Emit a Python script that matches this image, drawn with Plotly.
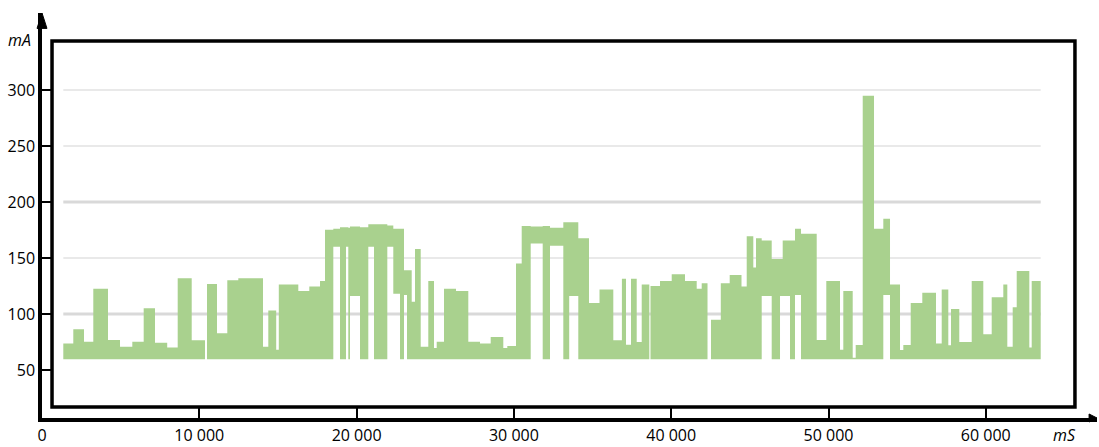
import plotly.graph_objects as go

# Current draw over time: each segment starts at seg_start_ms and runs to the
# next start; the trace fills the band between seg_floor_mA and seg_top_mA.
seg_start_ms = [
    1354, 1990, 2670, 3261, 4196, 4959, 5741, 6465, 7184, 7959,
    8627, 9517, 10362, 10490, 11125, 11780, 12480, 14050, 14387, 14889,
    15054, 16294, 16993, 17673, 17991, 18519, 18945, 19326, 19472, 19580,
    20216, 20744, 21106, 21952, 22333, 22759, 23013, 23204, 23503, 23713,
    24075, 24558, 24921, 25092, 25556, 26319, 27101, 27845, 28525, 29326,
    29581, 30134, 30496, 31068, 31831, 32295, 33141, 33516, 34094, 34774,
    35442, 36319, 36866, 37127, 37444, 37807, 38125, 38608, 38684, 39288,
    40032, 40877, 41621, 41939, 42308, 42530, 43153, 43719, 44469, 44800,
    45219, 45391, 45753, 46389, 46917, 47088, 47553, 47870, 48252, 49250,
    49860, 50731, 50941, 51538, 51729, 52175, 52893, 53484, 53910, 54546,
    54756, 55226, 55963, 56834, 57197, 57616, 57788, 58314, 59104, 59841,
    60375, 61113, 61367, 61710, 61965, 62766, 62918,
]
end_ms = 63490

seg_top_mA = [
    73.7, 86.4, 75.3, 122.5, 76.8, 70.8, 75.3, 105.0, 74.4, 70.0,
    131.8, 76.5, 59.5, 126.8, 82.8, 130.0, 131.8, 70.8, 103.2, 68.0,
    126.4, 120.4, 124.6, 129.4, 175.2, 176.0, 177.5, 177.5, 177.0, 178.0,
    177.5, 180.0, 180.0, 179.0, 176.0, 176.0, 139.0, 139.0, 111.0, 158.0,
    70.8, 129.4, 69.5, 75.3, 122.6, 120.4, 75.3, 73.7, 79.4, 69.5,
    71.5, 145.0, 178.5, 178.0, 178.5, 177.0, 182.0, 182.0, 167.5, 109.8,
    121.9, 76.5, 131.4, 72.5, 131.4, 75.0, 126.4, 59.5, 124.9, 129.4,
    135.4, 129.4, 122.5, 127.5, 59.5, 94.9, 127.5, 134.7, 124.5, 169.3,
    141.5, 167.6, 165.5, 149.0, 149.0, 165.5, 165.5, 176.0, 171.6, 76.8,
    129.4, 68.0, 120.4, 61.0, 72.3, 294.9, 176.0, 185.0, 126.4, 67.8,
    72.3, 109.8, 118.9, 73.7, 121.9, 72.0, 104.4, 74.9, 129.4, 81.9,
    115.0, 126.4, 70.8, 106.0, 138.4, 70.0, 129.4,
]

seg_floor_mA = [
    59.5, 59.5, 59.5, 59.5, 59.5, 59.5, 59.5, 59.5, 59.5, 59.5,
    59.5, 59.5, 59.5, 59.5, 59.5, 59.5, 59.5, 59.5, 59.5, 59.5,
    59.5, 59.5, 59.5, 59.5, 59.5, 160.0, 59.5, 160.0, 59.5, 116.0,
    59.5, 160.0, 59.5, 160.0, 118.0, 59.5, 117.0, 59.5, 59.5, 59.5,
    59.5, 59.5, 59.5, 59.5, 59.5, 59.5, 59.5, 59.5, 59.5, 59.5,
    59.5, 59.5, 59.5, 163.0, 59.5, 161.0, 59.5, 116.0, 59.5, 59.5,
    59.5, 59.5, 59.5, 59.5, 59.5, 59.5, 59.5, 59.5, 59.5, 59.5,
    59.5, 59.5, 59.5, 59.5, 59.5, 59.5, 59.5, 59.5, 59.5, 59.5,
    59.5, 59.5, 116.0, 59.5, 116.0, 116.0, 59.5, 117.0, 59.5, 59.5,
    59.5, 59.5, 59.5, 59.5, 59.5, 59.5, 59.5, 117.0, 59.5, 59.5,
    59.5, 59.5, 59.5, 59.5, 59.5, 59.5, 59.5, 59.5, 59.5, 59.5,
    59.5, 59.5, 59.5, 59.5, 59.5, 59.5, 59.5,
]

x_tick_vals = [0, 10000, 20000, 30000, 40000, 50000, 60000]
x_tick_labels = ["0", "10 000", "20 000", "30 000", "40 000", "50 000", "60 000"]
y_tick_vals = [50, 100, 150, 200, 250, 300]
y_tick_labels = ["50", "100", "150", "200", "250", "300"]
thin_grid_mA = [150, 250, 300]
thick_grid_mA = [100, 200]

x_units = "mS"
y_units = "mA"

GREEN = "#a9d18e"
FONT = "Open Sans"
FS = 16

edges = seg_start_ms + [end_ms]
tops = seg_top_mA + [seg_top_mA[-1]]
floors = seg_floor_mA + [seg_floor_mA[-1]]

fig = go.Figure()
fig.add_trace(go.Scatter(
    x=edges, y=floors, mode="lines", line=dict(shape="hv", width=0, color=GREEN),
    hoverinfo="skip", showlegend=False,
))
fig.add_trace(go.Scatter(
    x=edges, y=tops, mode="lines", line=dict(shape="hv", width=0, color=GREEN),
    fill="tonexty", fillcolor=GREEN, showlegend=False,
))

shapes = []
for v in thin_grid_mA:
    shapes.append(dict(type="line", xref="x", yref="y", x0=edges[0], x1=edges[-1],
                       y0=v, y1=v, line=dict(color="#e2e2e2", width=1.5), layer="below"))
for v in thick_grid_mA:
    shapes.append(dict(type="line", xref="x", yref="y", x0=edges[0], x1=edges[-1],
                       y0=v, y1=v, line=dict(color="#d9d9d9", width=3), layer="below"))

# inner frame
shapes.append(dict(type="rect", xref="paper", yref="paper",
                   x0=0.0095, x1=0.9791, y0=0.0272, y1=0.9309,
                   line=dict(color="black", width=3.5), fillcolor="rgba(0,0,0,0)",
                   layer="above"))
# arrowheads on the axes
shapes.append(dict(type="path", xref="paper", yref="paper",
                   path="M -0.0047,0.962 L 0.0,1.0 L 0.0047,0.962 Z",
                   fillcolor="black", line=dict(color="black", width=1)))
shapes.append(dict(type="path", xref="paper", yref="paper",
                   path="M 0.9925,0.0099 L 1.0,0.0 L 0.9925,-0.0099 Z",
                   fillcolor="black", line=dict(color="black", width=1)))

fig.update_layout(
    width=1099, height=447,
    margin=dict(l=42, r=2, t=13, b=29),
    paper_bgcolor="white", plot_bgcolor="white",
    font=dict(family=FONT, size=FS, color="black"),
    shapes=shapes,
    xaxis=dict(
        range=[0, 67069], showgrid=False, zeroline=False,
        showline=True, linecolor="black", linewidth=3.5,
        ticks="inside", ticklen=10, tickwidth=2, tickcolor="black",
        tickvals=x_tick_vals, ticktext=x_tick_labels,
        tickfont=dict(family=FONT, size=FS),
    ),
    yaxis=dict(
        range=[7.1, 368.75], showgrid=False, zeroline=False,
        showline=True, linecolor="black", linewidth=3.5,
        ticks="inside", ticklen=10, tickwidth=2, tickcolor="black",
        tickvals=y_tick_vals, ticktext=y_tick_labels,
        tickfont=dict(family=FONT, size=FS),
    ),
    annotations=[
        dict(text=y_units, xref="paper", yref="paper", x=-0.0085, y=0.933,
             xanchor="right", yanchor="middle", showarrow=False,
             font=dict(family=FONT, size=FS, style="italic")),
        dict(text=x_units, xref="paper", yref="paper", x=0.982, y=-0.041,
             xanchor="right", yanchor="middle", showarrow=False,
             font=dict(family=FONT, size=FS, style="italic")),
    ],
)

fig.write_html("out.html")
